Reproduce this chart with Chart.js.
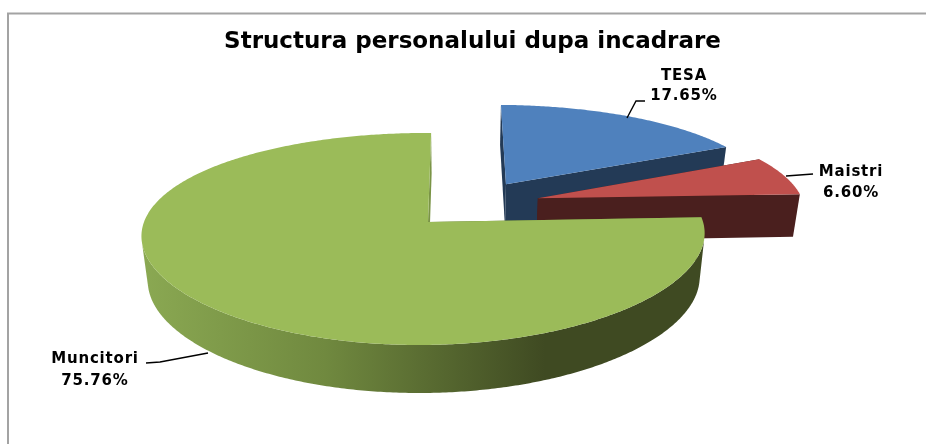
<!DOCTYPE html>
<html>
<head>
<meta charset="utf-8">
<style>
  html, body { margin: 0; padding: 0; background: #fff; }
  canvas { display: block; }
</style>
<script src="https://cdn.jsdelivr.net/npm/chart.js@4"></script>
</head>
<body>
<canvas id="chart" width="926" height="444"></canvas>
<script>
var categories = ['TESA', 'Maistri', 'Muncitori'];
var shares = [17.65, 6.60, 75.76];
var shareLabels = ['17.65%', '6.60%', '75.76%'];
var titleText = 'Structura personalului dupa incadrare';

var topColors = ['#4f81bd', '#c0504d', '#9bbb59'];
var sideColors = ['#233a56', '#4a1f1e', '#5f7636'];

// how far each slice is pulled out of the pie, in pie radii
var explodeU = [0.2885, 0.404, 0];
var explodeV = [-0.391, -0.241, 0];

// tilted view of the pie
var view = { cx: 428, cy: 222, a: 279, b: 103.3, k: 0.16, kx: 0.12, m: 0.016, xv: 457, depth: 44, shrink: 0.02 };

function project(u, v, h) {
  var wx = 1 - view.kx * v + view.m * u;
  var wy = 1 - view.k * v + view.m * u;
  var x = view.xv + (view.cx - view.xv + view.a * u) / wx;
  var y = view.cy + view.b * v / wy;
  if (h) {
    x = view.xv + (x - view.xv) * (1 - view.shrink);
    y += view.depth / Math.sqrt(wy);
  }
  return { x: x, y: y };
}

function polygon(ctx, pts, fill) {
  ctx.beginPath();
  pts.forEach(function (p, i) {
    if (i === 0) ctx.moveTo(p.x, p.y);
    else ctx.lineTo(p.x, p.y);
  });
  ctx.closePath();
  ctx.fillStyle = fill;
  ctx.fill();
}

function quadArea(a, b, c, d) {
  return (a.x * b.y - b.x * a.y) + (b.x * c.y - c.x * b.y) + (c.x * d.y - d.x * c.y) + (d.x * a.y - a.x * d.y);
}

// outer wall, only the part that faces the viewer
function drawWall(ctx, topPts, botPts, fill) {
  ctx.beginPath();
  for (var s = 0; s < topPts.length - 1; s++) {
    var a = topPts[s], b = topPts[s + 1], c = botPts[s + 1], d = botPts[s];
    if (quadArea(a, b, c, d) >= 0) continue;
    ctx.moveTo(a.x, a.y);
    ctx.lineTo(b.x, b.y);
    ctx.lineTo(c.x, c.y);
    ctx.lineTo(d.x, d.y);
    ctx.closePath();
  }
  ctx.fillStyle = fill;
  ctx.fill();
}

function drawSlice(ctx, arc, i) {
  var du = explodeU[i], dv = explodeV[i];
  var topPts = [], botPts = [];
  var steps = Math.ceil((arc.endAngle - arc.startAngle) / 0.01);
  for (var s = 0; s <= steps; s++) {
    var t = arc.startAngle + (arc.endAngle - arc.startAngle) * s / steps;
    topPts.push(project(du + Math.cos(t), dv + Math.sin(t), 0));
    botPts.push(project(du + Math.cos(t), dv + Math.sin(t), 1));
  }
  var apexTop = project(du, dv, 0), apexBot = project(du, dv, 1);
  var last = topPts.length - 1;

  var wall = sideColors[i];
  if (i === 2) {
    wall = ctx.createLinearGradient(145, 0, 545, 0);
    wall.addColorStop(0, '#8aa852');
    wall.addColorStop(0.45, '#70893f');
    wall.addColorStop(1, '#3f4a22');
  }
  polygon(ctx, [apexTop, topPts[0], botPts[0], apexBot], sideColors[i]);
  polygon(ctx, [apexTop, topPts[last], botPts[last], apexBot], i === 2 ? '#7a9446' : sideColors[i]);
  drawWall(ctx, topPts, botPts, wall);
  polygon(ctx, [apexTop].concat(topPts), topColors[i]);
}

var tiltedPie = {
  id: 'tiltedPie',
  beforeDatasetDraw: function () { return false; },
  afterDatasetsDraw: function (chart) {
    var ctx = chart.ctx;
    var arcs = chart.getDatasetMeta(0).data;
    ctx.save();
    arcs.forEach(function (arc, i) { drawSlice(ctx, arc, i); });
    ctx.restore();
  }
};

var labelSpots = [
  { x: 684, y: 76, y2: 96, line: [[627, 118], [636, 101], [645, 101]] },
  { x: 851, y: 172, y2: 193, line: [[786, 176], [813, 174]] },
  { x: 95, y: 359, y2: 381, line: [[146, 363], [160, 362], [208, 353]] }
];

var sliceLabels = {
  id: 'sliceLabels',
  afterDraw: function (chart) {
    var ctx = chart.ctx;
    ctx.save();
    // chart area frame, only left and top edges show
    ctx.strokeStyle = '#a3a3a3';
    ctx.lineWidth = 2;
    ctx.beginPath();
    ctx.moveTo(8, 444);
    ctx.lineTo(8, 13.5);
    ctx.lineTo(926, 13.5);
    ctx.stroke();

    ctx.fillStyle = '#000';
    ctx.font = 'bold 15px "DejaVu Sans"';
    ctx.letterSpacing = '0.8px';
    ctx.textAlign = 'center';
    ctx.textBaseline = 'middle';
    ctx.strokeStyle = '#000';
    ctx.lineWidth = 1.4;
    categories.forEach(function (name, i) {
      var spot = labelSpots[i];
      ctx.fillText(name, spot.x, spot.y);
      ctx.fillText(shareLabels[i], spot.x, spot.y2);
      ctx.beginPath();
      spot.line.forEach(function (p, j) {
        if (j === 0) ctx.moveTo(p[0], p[1]);
        else ctx.lineTo(p[0], p[1]);
      });
      ctx.stroke();
    });
    ctx.restore();
  }
};

new Chart(document.getElementById('chart'), {
  type: 'pie',
  data: {
    labels: categories,
    datasets: [{ data: shares, backgroundColor: topColors, borderWidth: 0 }]
  },
  plugins: [tiltedPie, sliceLabels],
  options: {
    responsive: false,
    animation: false,
    layout: { padding: { left: 19, top: 28 } },
    plugins: {
      legend: { display: false },
      tooltip: { enabled: false },
      title: {
        display: true,
        text: titleText,
        color: '#000',
        font: { family: 'DejaVu Sans', size: 23, weight: 'bold' },
        padding: 0
      }
    }
  }
});
</script>
</body>
</html>
